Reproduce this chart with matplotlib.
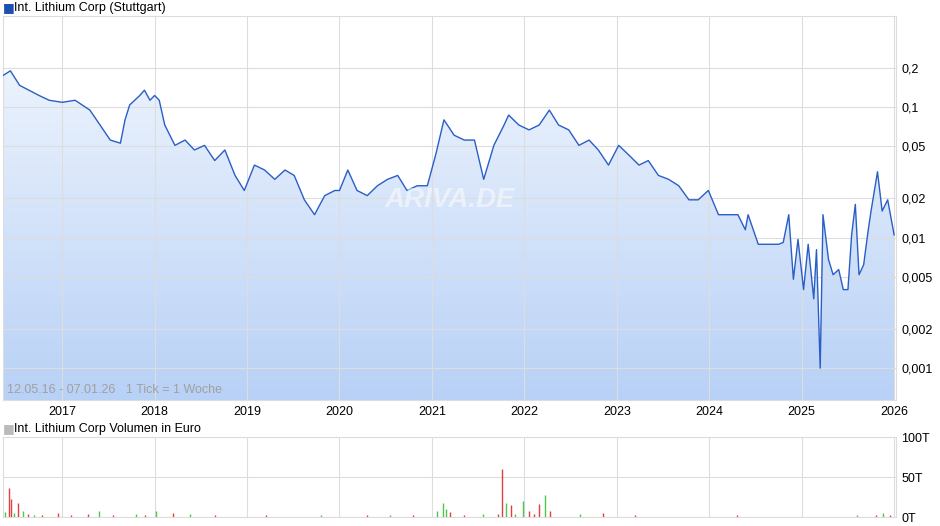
import numpy as np
import matplotlib.pyplot as plt
from matplotlib.colors import LinearSegmentedColormap
from matplotlib.ticker import FixedLocator, NullLocator

# decimal year / price in euro
years = [2016.36, 2016.44, 2016.54, 2016.75, 2016.86, 2017.0, 2017.14, 2017.30, 2017.41,
         2017.52, 2017.63, 2017.68, 2017.73, 2017.84, 2017.89, 2017.95, 2018.0, 2018.05,
         2018.11, 2018.22, 2018.33, 2018.43, 2018.54, 2018.65, 2018.76, 2018.87, 2018.97,
         2019.08, 2019.19, 2019.30, 2019.41, 2019.51, 2019.62, 2019.73, 2019.84, 2019.95,
         2020.0, 2020.09, 2020.19, 2020.30, 2020.41, 2020.52, 2020.63, 2020.73, 2020.84,
         2020.95, 2021.04, 2021.13, 2021.24, 2021.35, 2021.46, 2021.56, 2021.67, 2021.78,
         2021.83, 2021.94, 2022.05, 2022.16, 2022.27, 2022.37, 2022.48, 2022.59, 2022.70,
         2022.80, 2022.91, 2023.02, 2023.13, 2023.24, 2023.34, 2023.45, 2023.56, 2023.67,
         2023.78, 2023.88, 2023.99, 2024.10, 2024.21, 2024.31, 2024.39, 2024.42, 2024.53,
         2024.64, 2024.75, 2024.80, 2024.86, 2024.91, 2024.96, 2025.02, 2025.07, 2025.13,
         2025.16, 2025.20, 2025.23, 2025.29, 2025.34, 2025.40, 2025.45, 2025.50, 2025.54,
         2025.58, 2025.62, 2025.67, 2025.72, 2025.75, 2025.82, 2025.87, 2025.93, 2026.0]
price = [0.175, 0.19, 0.147, 0.123, 0.113, 0.109, 0.113, 0.095, 0.073, 0.056, 0.053, 0.080,
         0.104, 0.123, 0.135, 0.113, 0.123, 0.113, 0.073, 0.051, 0.056, 0.047, 0.051, 0.039,
         0.047, 0.030, 0.023, 0.036, 0.033, 0.028, 0.033, 0.030, 0.0195, 0.015, 0.021, 0.023,
         0.023, 0.033, 0.023, 0.021, 0.025, 0.028, 0.030, 0.023, 0.025, 0.025, 0.043, 0.080,
         0.061, 0.056, 0.056, 0.028, 0.051, 0.073, 0.087, 0.073, 0.067, 0.073, 0.095, 0.073,
         0.067, 0.051, 0.056, 0.047, 0.036, 0.051, 0.043, 0.036, 0.039, 0.030, 0.028, 0.025,
         0.0195, 0.0195, 0.023, 0.015, 0.015, 0.015, 0.0115, 0.015, 0.0089, 0.0089, 0.0089,
         0.0092, 0.015, 0.0048, 0.0097, 0.0040, 0.0089, 0.0034, 0.0081, 0.001, 0.015, 0.0068,
         0.0052, 0.0057, 0.0040, 0.0040, 0.0105, 0.018, 0.0052, 0.0062, 0.0115, 0.016, 0.032,
         0.016, 0.0195, 0.0105]

# volume bars in thousand euro (T)
vol_years = [2016.38, 2016.42, 2016.45, 2016.48, 2016.52, 2016.58, 2016.63, 2016.70, 2016.78,
             2016.95, 2017.10, 2017.28, 2017.40, 2017.55, 2017.80, 2017.90, 2018.02, 2018.20,
             2018.38, 2018.65, 2019.20, 2019.80, 2020.30, 2020.55, 2020.80, 2021.05, 2021.12,
             2021.15, 2021.20, 2021.35, 2021.55, 2021.72, 2021.76, 2021.80, 2021.85, 2021.90,
             2021.98, 2022.05, 2022.10, 2022.16, 2022.22, 2022.28, 2022.60, 2022.85, 2023.20,
             2024.30, 2025.60, 2025.80, 2025.88, 2025.95]
vol_vals = [6, 36, 22, 5, 17, 7, 4, 3, 3, 5, 3, 4, 7, 3, 4, 3, 8, 5, 4, 3, 3, 2, 2, 3, 3,
            7, 18, 10, 6, 3, 4, 4, 60, 18, 15, 4, 20, 8, 4, 16, 27, 8, 4, 5, 2, 2, 2, 2, 5, 3]
vol_up = [1, 0, 0, 1, 0, 1, 0, 1, 0, 0, 0, 0, 1, 0, 1, 0, 1, 0, 1, 0, 0, 1, 0, 1, 0,
          1, 1, 1, 0, 0, 1, 0, 0, 1, 0, 1, 1, 0, 0, 0, 1, 0, 1, 0, 0, 0, 1, 0, 1, 0]

price_ticks = [0.001, 0.002, 0.005, 0.01, 0.02, 0.05, 0.1, 0.2]
price_labels = ["0,001", "0,002", "0,005", "0,01", "0,02", "0,05", "0,1", "0,2"]
year_ticks = list(range(2017, 2027))

plt.rcParams['font.family'] = ['Liberation Sans Narrow', 'Liberation Sans', 'DejaVu Sans']
fig = plt.figure(figsize=(9.4, 5.26), dpi=100)
grid_c = '#dddddd'

ax = fig.add_axes([3 / 940, 126 / 526, 893 / 940, 384 / 526])
ax.set_yscale('log')

# gradient fill below the line (gradient in axes coordinates)
grad = np.linspace(0, 1, 256).reshape(-1, 1)
cmap = LinearSegmentedColormap.from_list('g', ['#f4f8fe', '#b8d1f6'])
img = ax.imshow(grad, cmap=cmap, aspect='auto', extent=[0, 1, 0, 1],
                transform=ax.transAxes, origin='upper', zorder=0)
poly = ax.fill_between(years, price, 0.00057, color='none')
img.set_clip_path(poly.get_paths()[0], transform=ax.transData)
ax.set_xlim(2016.36, 2026.02)
ax.set_ylim(0.00057, 0.5)
ax.plot(years, price, color='#2a5ec7', lw=1, zorder=3)

ax.yaxis.set_major_locator(FixedLocator(price_ticks))
ax.yaxis.set_minor_locator(NullLocator())
ax.set_yticklabels(price_labels)
ax.yaxis.tick_right()
ax.set_xticks(year_ticks)
ax.set_xticklabels([str(y) for y in year_ticks])
ax.grid(True, color=grid_c, lw=0.8, zorder=1)
ax.tick_params(length=0, labelsize=9, pad=4)
for s in ax.spines.values():
    s.set_color(grid_c)
ax.text(0.005, 0.01, "12.05.16 - 07.01.26   1 Tick = 1 Woche", transform=ax.transAxes,
        color='#a0a0a0', fontsize=9, va='bottom')
ax.text(0.5, 0.52, "ARIVA.DE", transform=ax.transAxes, color='white', alpha=0.5,
        fontsize=20, fontweight='bold', fontstyle='italic', ha='center', va='center')
fig.text(3 / 940, 1 - 8 / 526, "\u25a0", color='#1f4fb0', fontsize=9, va='center',
         family='DejaVu Sans')
fig.text(14 / 940, 1 - 8 / 526, "Int. Lithium Corp (Stuttgart)", fontsize=9, va='center')

av = fig.add_axes([3 / 940, 9 / 526, 893 / 940, 80 / 526])
av.set_xlim(2016.36, 2026.02)
av.set_ylim(0, 100)
cols = ['#4cc74c' if u else '#e04040' for u in vol_up]
av.vlines(vol_years, 0, vol_vals, colors=cols, lw=1, zorder=3)
av.set_xticks(year_ticks)
av.set_xticklabels([])
av.set_yticks([0, 50, 100])
av.set_yticklabels(["0T", "50T", "100T"])
av.yaxis.tick_right()
av.grid(True, color=grid_c, lw=0.8, zorder=1)
av.tick_params(length=0, labelsize=9, pad=4)
for s in av.spines.values():
    s.set_color(grid_c)
fig.text(3 / 940, 1 - 429 / 526, "\u25a0", color='#bbbbbb', fontsize=9, va='center',
         family='DejaVu Sans')
fig.text(14 / 940, 1 - 429 / 526, "Int. Lithium Corp Volumen in Euro", fontsize=9, va='center')

fig.savefig('out.png', dpi=100)
